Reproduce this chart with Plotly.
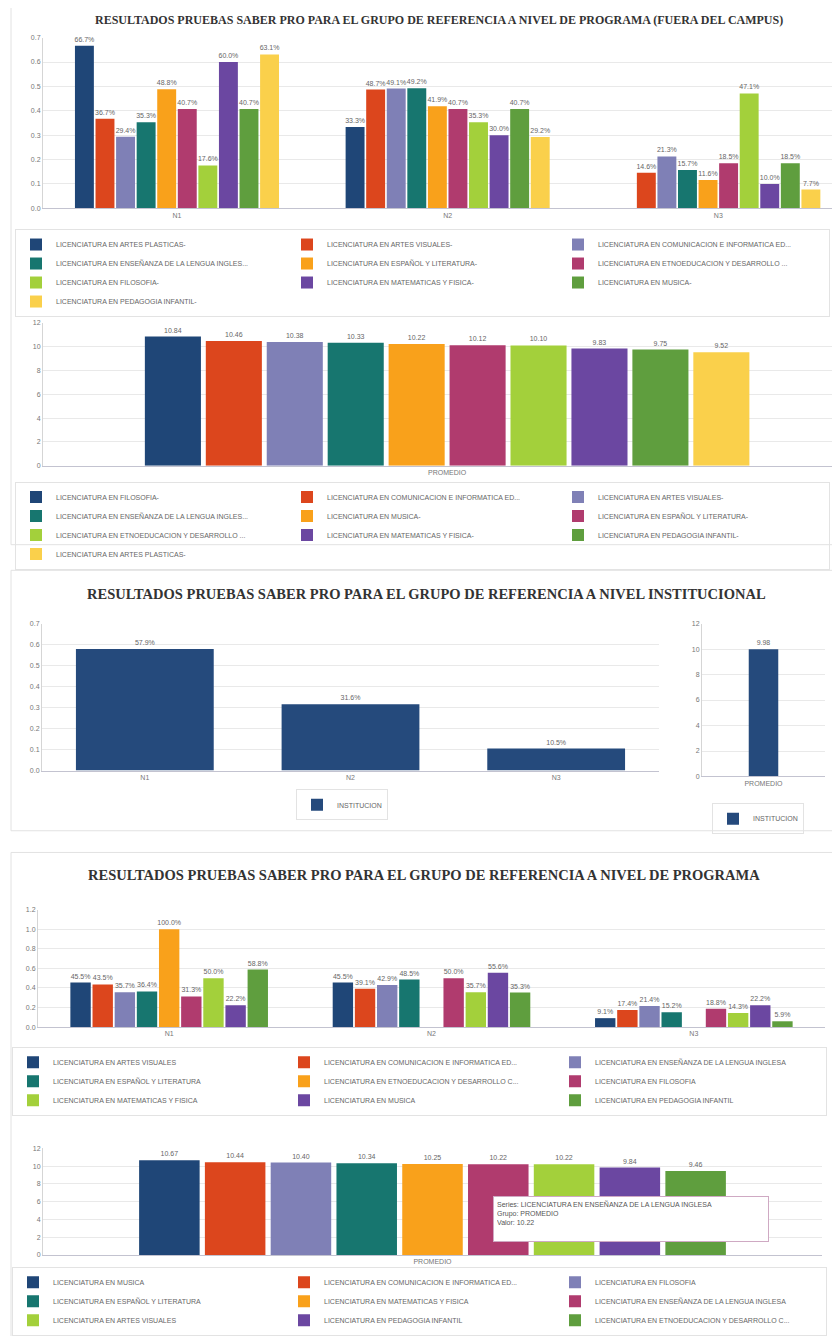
import plotly.graph_objects as go

# the page body keeps an 8 px margin, so the figure is a bit smaller than the
# 840x1344 window and every position below is given in window pixels
PAGE_W, PAGE_H, OFF = 840, 1344, 8
W, H = PAGE_W - 2 * OFF, PAGE_H - 2 * OFF

niveles = ["N1", "N2", "N3"]
grupo_promedio = ["PROMEDIO"]

colores = ["#1f4677", "#dc461d", "#7f80b6", "#17766f", "#f9a11b",
           "#b03b6e", "#a3d03b", "#6b47a1", "#5f9e3e", "#fad04b"]
color_inst = "#254a7c"

# --- programa (fuera del campus): porcentaje por nivel ---
programas_fc = [
    "LICENCIATURA EN ARTES PLASTICAS-",
    "LICENCIATURA EN ARTES VISUALES-",
    "LICENCIATURA EN COMUNICACION E INFORMATICA ED...",
    "LICENCIATURA EN ENSEÑANZA DE LA LENGUA INGLES...",
    "LICENCIATURA EN ESPAÑOL Y LITERATURA-",
    "LICENCIATURA EN ETNOEDUCACION Y DESARROLLO ...",
    "LICENCIATURA EN FILOSOFIA-",
    "LICENCIATURA EN MATEMATICAS Y FISICA-",
    "LICENCIATURA EN MUSICA-",
    "LICENCIATURA EN PEDAGOGIA INFANTIL-",
]
fc_n1 = [0.667, 0.367, 0.294, 0.353, 0.488, 0.407, 0.176, 0.600, 0.407, 0.631]
fc_n2 = [0.333, 0.487, 0.491, 0.492, 0.419, 0.407, 0.353, 0.300, 0.407, 0.292]
fc_n3 = [None, 0.146, 0.213, 0.157, 0.116, 0.185, 0.471, 0.100, 0.185, 0.077]

# --- programa (fuera del campus): promedio ---
programas_fc_prom = [
    "LICENCIATURA EN FILOSOFIA-",
    "LICENCIATURA EN COMUNICACION E INFORMATICA ED...",
    "LICENCIATURA EN ARTES VISUALES-",
    "LICENCIATURA EN ENSEÑANZA DE LA LENGUA INGLES...",
    "LICENCIATURA EN MUSICA-",
    "LICENCIATURA EN ESPAÑOL Y LITERATURA-",
    "LICENCIATURA EN ETNOEDUCACION Y DESARROLLO ...",
    "LICENCIATURA EN MATEMATICAS Y FISICA-",
    "LICENCIATURA EN PEDAGOGIA INFANTIL-",
    "LICENCIATURA EN ARTES PLASTICAS-",
]
fc_promedio = [10.84, 10.46, 10.38, 10.33, 10.22, 10.12, 10.10, 9.83, 9.75, 9.52]

# --- nivel institucional ---
inst_nombre = "INSTITUCION"
inst_niveles = [0.579, 0.316, 0.105]
inst_promedio = [9.98]

# --- nivel de programa ---
programas_p = [
    "LICENCIATURA EN ARTES VISUALES",
    "LICENCIATURA EN COMUNICACION E INFORMATICA ED...",
    "LICENCIATURA EN ENSEÑANZA DE LA LENGUA INGLESA",
    "LICENCIATURA EN ESPAÑOL Y LITERATURA",
    "LICENCIATURA EN ETNOEDUCACION Y DESARROLLO C...",
    "LICENCIATURA EN FILOSOFIA",
    "LICENCIATURA EN MATEMATICAS Y FISICA",
    "LICENCIATURA EN MUSICA",
    "LICENCIATURA EN PEDAGOGIA INFANTIL",
]
p_n1 = [0.455, 0.435, 0.357, 0.364, 1.000, 0.313, 0.500, 0.222, 0.588]
p_n2 = [0.455, 0.391, 0.429, 0.485, None, 0.500, 0.357, 0.556, 0.353]
p_n3 = [0.091, 0.174, 0.214, 0.152, None, 0.188, 0.143, 0.222, 0.059]

programas_p_prom = [
    "LICENCIATURA EN MUSICA",
    "LICENCIATURA EN COMUNICACION E INFORMATICA ED...",
    "LICENCIATURA EN FILOSOFIA",
    "LICENCIATURA EN ESPAÑOL Y LITERATURA",
    "LICENCIATURA EN MATEMATICAS Y FISICA",
    "LICENCIATURA EN ENSEÑANZA DE LA LENGUA INGLESA",
    "LICENCIATURA EN ARTES VISUALES",
    "LICENCIATURA EN PEDAGOGIA INFANTIL",
    "LICENCIATURA EN ETNOEDUCACION Y DESARROLLO C...",
]
p_promedio = [10.67, 10.44, 10.40, 10.34, 10.25, 10.22, 10.22, 9.84, 9.46]

titulos = [
    "RESULTADOS PRUEBAS SABER PRO PARA EL GRUPO DE REFERENCIA A NIVEL DE PROGRAMA (FUERA DEL CAMPUS)",
    "RESULTADOS PRUEBAS SABER PRO PARA EL GRUPO DE REFERENCIA A NIVEL INSTITUCIONAL",
    "RESULTADOS PRUEBAS SABER PRO PARA EL GRUPO DE REFERENCIA A NIVEL DE PROGRAMA",
]
tooltip = ["Series: LICENCIATURA EN ENSEÑANZA DE LA LENGUA INGLESA",
           "Grupo: PROMEDIO", "Valor: 10.22"]


def px_x(px):
    return (px - OFF) / W


def px_y(py):
    return 1 - (py - OFF) / H


def dom(a, b):
    return [max(0.0, min(1.0, a)), max(0.0, min(1.0, b))]


FONT = "Liberation Sans, Arial, sans-serif"
tick_font = dict(size=7, color="#777777", family=FONT)
label_font = dict(size=7, color="#666666", family=FONT)


def eje_x(x0, x1, anchor, rango=None):
    d = dict(domain=dom(px_x(x0), px_x(x1)), type="category", anchor=anchor,
             showline=True, linecolor="#c3c3d0", showgrid=False,
             tickfont=tick_font, ticks="", fixedrange=True)
    if rango:
        d["range"] = rango
    return d


def eje_y(y0, y1, rng, dtick, fmt, anchor):
    return dict(domain=dom(px_y(y1), px_y(y0)), range=rng, dtick=dtick, tickformat=fmt,
                anchor=anchor, showgrid=True, gridcolor="#e9e9e9", zeroline=False,
                showline=True, linecolor="#d5d5d5", tickfont=tick_font,
                ticks="", fixedrange=True)


def leyenda(x, y, xanchor="left", entrywidth=226):
    d = dict(orientation="h", x=px_x(x), y=px_y(y), xanchor=xanchor, yanchor="top",
             font=dict(size=7, color="#666666", family=FONT),
             bgcolor="rgba(0,0,0,0)", bordercolor="#e3e3e3", borderwidth=1,
             itemclick=False)
    if entrywidth:
        d.update(entrywidth=entrywidth, entrywidthmode="pixels")
    return d


fig = go.Figure()

# chart 1: porcentajes fuera del campus
for i, nombre in enumerate(programas_fc):
    fig.add_trace(go.Bar(
        x=niveles, y=[fc_n1[i], fc_n2[i], fc_n3[i]], name=nombre,
        marker=dict(color=colores[i], line=dict(width=0)),
        texttemplate="%{y:.1%}", textposition="outside", constraintext="none",
        textfont=label_font, cliponaxis=False,
        xaxis="x", yaxis="y", legend="legend"))

# chart 2: promedio fuera del campus
for i, nombre in enumerate(programas_fc_prom):
    fig.add_trace(go.Bar(
        x=grupo_promedio, y=[fc_promedio[i]], name=nombre,
        marker=dict(color=colores[i], line=dict(width=0)),
        texttemplate="%{y:.2f}", textposition="outside", constraintext="none",
        textfont=label_font, cliponaxis=False,
        xaxis="x2", yaxis="y2", legend="legend2"))

# chart 3: institucional
fig.add_trace(go.Bar(
    x=niveles, y=inst_niveles, name=inst_nombre, width=0.67,
    marker=dict(color=color_inst, line=dict(width=0)),
    texttemplate="%{y:.1%}", textposition="outside", constraintext="none",
    textfont=label_font, cliponaxis=False,
    xaxis="x3", yaxis="y3", legend="legend3"))
fig.add_trace(go.Bar(
    x=grupo_promedio, y=inst_promedio, name=inst_nombre, width=0.24,
    marker=dict(color=color_inst, line=dict(width=0)),
    texttemplate="%{y:.2f}", textposition="outside", constraintext="none",
    textfont=label_font, cliponaxis=False,
    xaxis="x4", yaxis="y4", legend="legend4"))

# chart 4: porcentajes nivel de programa
for i, nombre in enumerate(programas_p):
    fig.add_trace(go.Bar(
        x=niveles, y=[p_n1[i], p_n2[i], p_n3[i]], name=nombre,
        marker=dict(color=colores[i], line=dict(width=0)),
        texttemplate="%{y:.1%}", textposition="outside", constraintext="none",
        textfont=label_font, cliponaxis=False,
        xaxis="x5", yaxis="y5", legend="legend5"))

# chart 5: promedio nivel de programa
for i, nombre in enumerate(programas_p_prom):
    fig.add_trace(go.Bar(
        x=grupo_promedio, y=[p_promedio[i]], name=nombre,
        marker=dict(color=colores[i], line=dict(width=0)),
        texttemplate="%{y:.2f}", textposition="outside", constraintext="none",
        textfont=label_font, cliponaxis=False,
        xaxis="x6", yaxis="y6", legend="legend6"))

titulo_font = dict(family="Liberation Serif, Times New Roman, serif", color="#333333")
anotaciones = [
    dict(text="<b>%s</b>" % titulos[0], x=px_x(439), y=px_y(16), font=dict(size=12, **titulo_font)),
    dict(text="<b>%s</b>" % titulos[1], x=px_x(426), y=px_y(598), font=dict(size=14.5, **titulo_font)),
    dict(text="<b>%s</b>" % titulos[2], x=px_x(424), y=px_y(883), font=dict(size=14.5, **titulo_font)),
    dict(text="<br>".join(tooltip), x=px_x(493), y=px_y(1208), xanchor="left", yanchor="top",
         align="left", width=268, height=38, valign="top", bgcolor="white",
         bordercolor="#cfa9c3", borderwidth=1, borderpad=3,
         font=dict(size=7, color="#555555", family=FONT)),
]
for a in anotaciones:
    a.setdefault("xanchor", "center")
    a.setdefault("yanchor", "middle")
    a.update(xref="paper", yref="paper", showarrow=False)

# marcos de los paneles
marcos = [(11, 0, 850, 548), (11, 574, 850, 838), (11, 860, 850, 1360)]
shapes = [dict(type="rect", xref="paper", yref="paper",
               x0=px_x(a), x1=px_x(c), y0=px_y(d), y1=px_y(b),
               line=dict(color="#e2e2e2", width=1), layer="below")
          for a, b, c, d in marcos]

fig.update_layout(
    width=W, height=H,
    margin=dict(l=0, r=0, t=0, b=0),
    paper_bgcolor="white", plot_bgcolor="white",
    barmode="group", bargap=0.24, bargroupgap=0.08,
    font=dict(family=FONT),
    showlegend=True,
    # the first chart runs past the right edge of the page in the original
    xaxis=eje_x(43, 832, "y", rango=[-0.495, 2.42]),
    yaxis=eje_y(34, 207, [0, 0.7], 0.1, ".1f", "x"),
    xaxis2=eje_x(43, 832, "y2", rango=[-0.504, 0.48]),
    yaxis2=eje_y(323, 468, [0, 12], 2, "d", "x2"),
    xaxis3=eje_x(42, 659, "y3"),
    yaxis3=eje_y(628, 777, [0, 0.7], 0.1, ".1f", "x3"),
    xaxis4=eje_x(702, 825, "y4"),
    yaxis4=eje_y(628, 783, [0, 12], 2, "d", "x4"),
    xaxis5=eje_x(38, 825, "y5"),
    yaxis5=eje_y(918, 1037, [0, 1.2], 0.2, ".1f", "x5"),
    xaxis6=eje_x(43, 822, "y6"),
    yaxis6=eje_y(1160, 1268, [0, 12], 2, "d", "x6"),
    legend=leyenda(15, 228),
    legend2=leyenda(15, 484),
    legend3=leyenda(342, 796, xanchor="center", entrywidth=None),
    legend4=leyenda(758, 810, xanchor="center", entrywidth=None),
    legend5=leyenda(12, 1057),
    legend6=leyenda(12, 1280),
    annotations=anotaciones,
    shapes=shapes,
)

fig.write_html("out.html")
